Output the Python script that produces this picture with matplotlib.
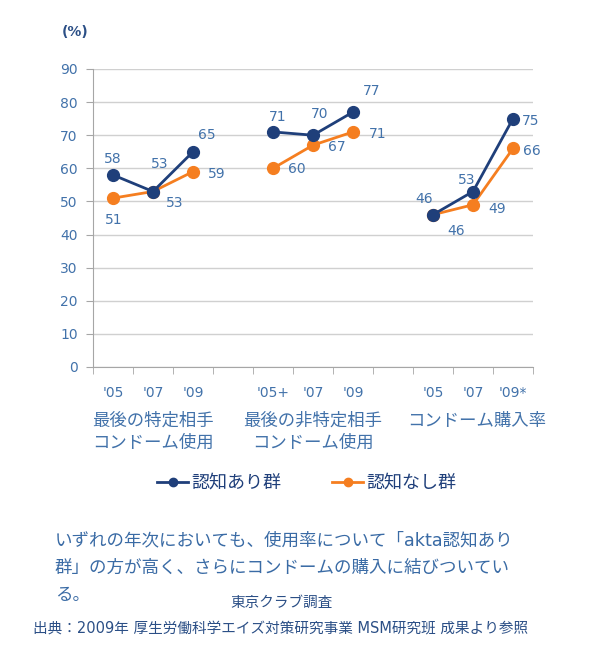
import numpy as np
import matplotlib
matplotlib.use("Agg")
import matplotlib.pyplot as plt
import matplotlib.transforms as mtransforms
from matplotlib.lines import Line2D

plt.rcParams['font.family'] = ['DejaVu Sans', 'Noto Sans CJK JP']

# data (None = gap between groups)
year_labels = ["'05", "'07", "'09", "", "'05+", "'07", "'09", "", "'05", "'07", "'09*"]
aware = [58, 53, 65, None, 71, 70, 77, None, 46, 53, 75]       # 認知あり群
unaware = [51, 53, 59, None, 60, 67, 71, None, 46, 49, 66]     # 認知なし群
groups = ["最後の特定相手\nコンドーム使用", "最後の非特定相手\nコンドーム使用", "コンドーム購入率"]
series_names = ["認知あり群", "認知なし群"]
para_lines = ["いずれの年次においても、使用率について「akta認知あり",
              "群」の方が高く、さらにコンドームの購入に結びついてい",
              "る。"]

# label offsets in pixels (dx, dy up)
aware_off = [(0, 16), (7, 28), (14, 17), None, (5, 15), (7, 21), (19, 21), None, (-9, 16), (-6, 12), (18, -2)]
unaware_off = [(1, -22), (22, -11), (24, -2), None, (24, -1), (24, -2), (25, -2), None, (23, -16), (24, -4), (19, -3)]

blue = '#1F3F7A'
orange = '#F57E20'
txt = '#4272AA'

fig = plt.figure(figsize=(6.08, 6.58), dpi=100)
ax = fig.add_axes([93 / 608, 1 - 367 / 658, 440 / 608, 298 / 658])

x = np.arange(len(year_labels))
a = np.array([np.nan if v is None else v for v in aware], dtype=float)
u = np.array([np.nan if v is None else v for v in unaware], dtype=float)

ax.plot(x, u, color=orange, lw=2, marker='o', ms=8.5, zorder=3)
ax.plot(x, a, color=blue, lw=2, marker='o', ms=8.5, zorder=4)

for xi, v, off in zip(x, a, aware_off):
    if off is not None:
        ax.annotate(f"{v:.0f}", (xi, v), xytext=off, textcoords='offset pixels',
                    ha='center', va='center', fontsize=10, color=txt)
for xi, v, off in zip(x, u, unaware_off):
    if off is not None:
        ax.annotate(f"{v:.0f}", (xi, v), xytext=off, textcoords='offset pixels',
                    ha='center', va='center', fontsize=10, color=txt)

ax.set_xlim(-0.5, len(year_labels) - 0.5)
ax.set_ylim(0, 90)
ax.set_yticks(np.arange(0, 91, 10))
ax.yaxis.grid(True, color='#D0D0D0', lw=1)
ax.set_axisbelow(True)
ax.tick_params(axis='y', length=5, color='#A6A6A6', labelsize=10, labelcolor=txt, pad=6)

ax.set_xticks(x)
ax.set_xticklabels(year_labels)
ax.set_xticks(np.arange(-0.5, len(year_labels)), minor=True)
ax.tick_params(axis='x', which='major', length=0, pad=14, labelsize=10, labelcolor=txt)
ax.tick_params(axis='x', which='minor', length=5, color='#A6A6A6')

for s in ['top', 'right']:
    ax.spines[s].set_visible(False)
for s in ['left', 'bottom']:
    ax.spines[s].set_color('#A6A6A6')

# group labels
trans = mtransforms.blended_transform_factory(ax.transData, fig.transFigure)
for cx, g in zip([1, 5, 9.1], groups):
    ax.text(cx, 1 - 412 / 658, g, transform=trans, ha='center', va='top',
            fontsize=12.5, color=txt, linespacing=1.25)

fig.text(75 / 608, 1 - 32 / 658, "(%)", ha='center', va='center',
         fontsize=10, fontweight='bold', color='#2B4F86')

handles = [Line2D([], [], color=blue, lw=2, marker='o', ms=6),
           Line2D([], [], color=orange, lw=2, marker='o', ms=6)]
fig.legend(handles, series_names, loc='center', bbox_to_anchor=(307 / 608, 1 - 483 / 658),
           ncol=2, frameon=False, fontsize=13, labelcolor='#1F3F7A',
           handlelength=1.7, handletextpad=0.2, columnspacing=2.8)

for yy, line in zip([540, 568, 595], para_lines):
    fig.text(55 / 608, 1 - yy / 658, line, ha='left', va='center', fontsize=12.6,
             color='#3A6BA5')
fig.text(282 / 608, 1 - 602 / 658, "東京クラブ調査", ha='center', va='center',
         fontsize=10.5, color='#2B4F86')
fig.text(281 / 608, 1 - 628 / 658,
         "出典：2009年 厚生労働科学エイズ対策研究事業 MSM研究班 成果より参照",
         ha='center', va='center', fontsize=10.5, color='#2B4F86')

fig.savefig('out.png', dpi=100)
